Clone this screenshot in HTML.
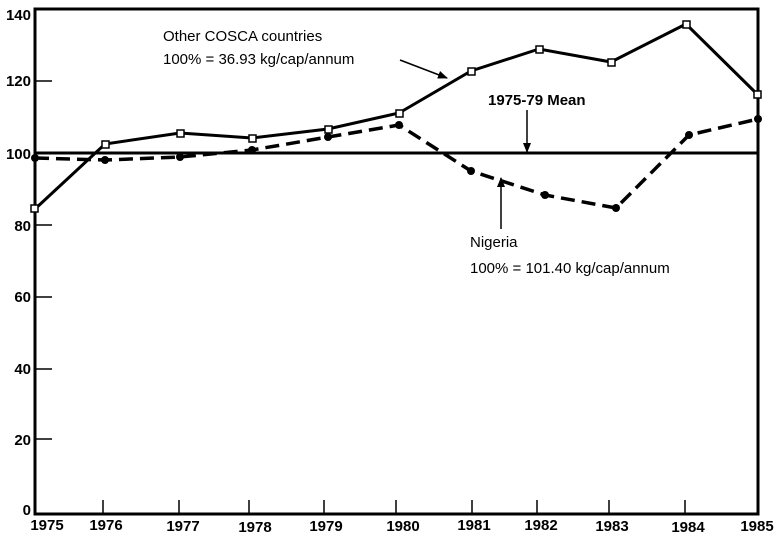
<!DOCTYPE html>
<html><head><meta charset="utf-8"><style>
html,body{margin:0;padding:0;background:#fff;}
svg{display:block;}
text{font-family:"Liberation Sans",Arial,sans-serif;fill:#000;}
</style></head><body>
<svg width="774" height="541" viewBox="0 0 774 541">
<defs>
<marker id="ah" markerWidth="10" markerHeight="8" refX="9" refY="4" orient="auto" markerUnits="userSpaceOnUse">
<path d="M0,0 L10,4 L0,8 Z" fill="#000"/></marker>
</defs>
<rect x="35" y="9" width="723" height="505" fill="none" stroke="#000" stroke-width="3"/>
<g stroke="#000" stroke-width="1.5">
<line x1="35" y1="81" x2="52" y2="81"/>
<line x1="35" y1="225" x2="52" y2="225"/>
<line x1="35" y1="297" x2="52" y2="297"/>
<line x1="35" y1="369" x2="52" y2="369"/>
<line x1="35" y1="439" x2="52" y2="439"/>
<line x1="103" y1="500" x2="103" y2="514"/>
<line x1="179" y1="500" x2="179" y2="514"/>
<line x1="249" y1="500" x2="249" y2="514"/>
<line x1="324" y1="500" x2="324" y2="514"/>
<line x1="396" y1="500" x2="396" y2="514"/>
<line x1="472" y1="500" x2="472" y2="514"/>
<line x1="537" y1="500" x2="537" y2="514"/>
<line x1="609" y1="500" x2="609" y2="514"/>
<line x1="685" y1="500" x2="685" y2="514"/>
</g>
<g font-size="15" font-weight="bold" text-anchor="end">
<text x="31" y="20">140</text>
<text x="31" y="86">120</text>
<text x="31" y="159">100</text>
<text x="31" y="231">80</text>
<text x="31" y="302">60</text>
<text x="31" y="374">40</text>
<text x="31" y="445">20</text>
<text x="31" y="515">0</text>
</g>
<g font-size="15" font-weight="bold" text-anchor="middle">
<text x="47" y="530">1975</text>
<text x="106" y="530">1976</text>
<text x="183" y="531">1977</text>
<text x="255" y="532">1978</text>
<text x="326" y="531">1979</text>
<text x="403" y="531">1980</text>
<text x="474" y="530">1981</text>
<text x="541" y="530">1982</text>
<text x="612" y="531">1983</text>
<text x="688" y="532">1984</text>
<text x="757" y="531">1985</text>
</g>
<line x1="35" y1="153" x2="758" y2="153" stroke="#000" stroke-width="3"/>
<polyline fill="none" stroke="#000" stroke-width="3" points="35,209 105,144 180,133 252,138 328,129 399,113 471,71 539,49 611,62 686,24 757,94"/>
<g fill="#fff" stroke="#000" stroke-width="1.5">
<rect x="31" y="205" width="7" height="7"/><rect x="102" y="141" width="7" height="7"/><rect x="177" y="130" width="7" height="7"/><rect x="249" y="135" width="7" height="7"/><rect x="325" y="126" width="7" height="7"/><rect x="396" y="110" width="7" height="7"/><rect x="468" y="68" width="7" height="7"/><rect x="536" y="46" width="7" height="7"/><rect x="608" y="59" width="7" height="7"/><rect x="683" y="21" width="7" height="7"/><rect x="754" y="91" width="7" height="7"/>
</g>
<polyline fill="none" stroke="#000" stroke-width="3.5" stroke-dasharray="14,7" points="35,158 105,160 180,157 252,150 328,137 399,125 471,171 545,195 616,208 689,135 758,119"/>
<g fill="#000">
<circle cx="35" cy="158" r="4"/><circle cx="105" cy="160" r="4"/><circle cx="180" cy="157" r="4"/><circle cx="252" cy="150" r="4"/><circle cx="328" cy="137" r="4"/><circle cx="399" cy="125" r="4"/><circle cx="471" cy="171" r="4"/><circle cx="545" cy="195" r="4"/><circle cx="616" cy="208" r="4"/><circle cx="689" cy="135" r="4"/><circle cx="758" cy="119" r="4"/>
</g>
<g font-size="15">
<text x="163" y="41">Other COSCA countries</text>
<text x="163" y="64">100% = 36.93 kg/cap/annum</text>
<text x="488" y="105" font-weight="bold">1975-79 Mean</text>
<text x="470" y="247">Nigeria</text>
<text x="470" y="273">100% = 101.40 kg/cap/annum</text>
</g>
<g stroke="#000" stroke-width="1.5" fill="none">
<line x1="400" y1="60" x2="447" y2="78" marker-end="url(#ah)"/>
<line x1="527" y1="110" x2="527" y2="152" marker-end="url(#ah)"/>
<line x1="501" y1="229" x2="501" y2="178" marker-end="url(#ah)"/>
</g>
</svg>
</body></html>
